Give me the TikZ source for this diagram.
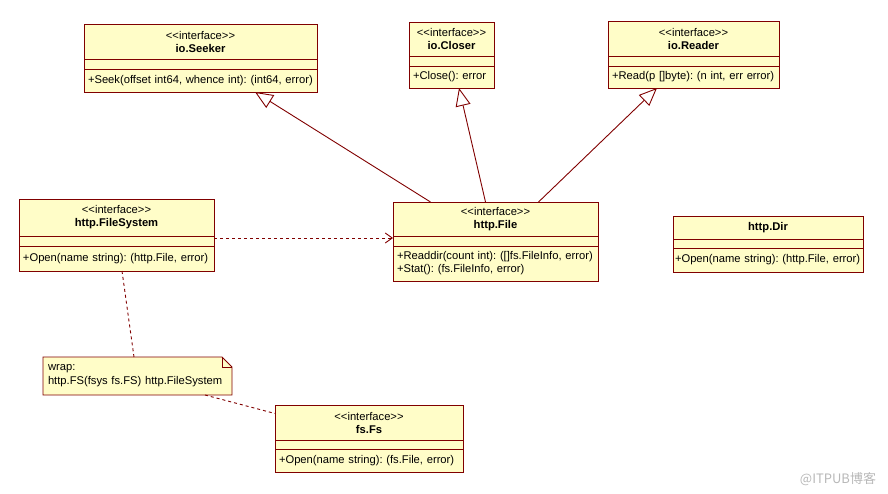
\documentclass[tikz,border=0pt]{standalone}
\usepackage{fontspec}
\setmainfont{Liberation Sans}
\newfontfamily\cjkfont{Noto Sans CJK SC}
\usepackage{tikz}
\usetikzlibrary{arrows.meta,positioning,backgrounds}
\definecolor{umlred}{RGB}{128,0,0}
\definecolor{umlfill}{RGB}{255,253,200}
\frenchspacing

\begin{document}
\begin{tikzpicture}[x=1pt, y=-1pt, node distance=0pt,
  head/.style={rectangle, draw=umlred, fill=umlfill, line width=0.9pt, outer sep=0pt, inner sep=0pt, align=center, anchor=north west, font=\fontsize{11.2}{13}\selectfont},
  blank/.style={rectangle, draw=umlred, fill=umlfill, line width=0.9pt, outer sep=0pt, inner sep=0pt},
  ops/.style={rectangle, draw=umlred, fill=umlfill, line width=0.9pt, outer sep=0pt, inner xsep=4pt, inner ysep=0pt, align=left, font=\fontsize{11.2}{13}\selectfont},
  note/.style={rectangle, outer sep=0pt, inner xsep=5pt, inner ysep=0pt, align=left, font=\fontsize{11.2}{14}\selectfont},
  realize/.style={draw=umlred, line width=0.9pt, -{Triangle[length=18pt, width=15pt, fill=white]}},
  depend/.style={draw=umlred, line width=0.9pt, dash pattern=on 3pt off 3pt, -{Straight Barb[length=7pt, width=10pt]}},
  link/.style={draw=umlred, line width=0.9pt, dash pattern=on 3pt off 3pt}]
\useasboundingbox (0,0) rectangle (888,494);

% io.Seeker
\node[head, minimum width=233pt, minimum height=35pt] (seekerhead) at (84,24) {\textless\kern0pt\textless interface\textgreater\kern0pt\textgreater\\\textbf{io.Seeker}};
\node[blank, minimum width=233pt, minimum height=10pt, below=of seekerhead] (seekerblank) {};
\node[ops, text width=225pt, minimum height=23pt, below=of seekerblank] (seekerops) {+Seek(offset int64, whence int): (int64, error)};

% io.Closer
\node[head, minimum width=85pt, minimum height=34pt] (closerhead) at (409,22) {\textless\kern0pt\textless interface\textgreater\kern0pt\textgreater\\\textbf{io.Closer}};
\node[blank, minimum width=85pt, minimum height=10pt, below=of closerhead] (closerblank) {};
\node[ops, text width=77pt, minimum height=22pt, below=of closerblank] (closerops) {+Close(): error};

% io.Reader
\node[head, minimum width=171pt, minimum height=35pt] (readerhead) at (608,21) {\textless\kern0pt\textless interface\textgreater\kern0pt\textgreater\\\textbf{io.Reader}};
\node[blank, minimum width=171pt, minimum height=10pt, below=of readerhead] (readerblank) {};
\node[ops, text width=163pt, minimum height=22pt, below=of readerblank] (readerops) {+Read(p {[]}byte): (n int, err error)};

% http.FileSystem
\node[head, minimum width=195pt, minimum height=37pt] (fshead) at (19,199) {\textless\kern0pt\textless interface\textgreater\kern0pt\textgreater\\\textbf{http.FileSystem}};
\node[blank, minimum width=195pt, minimum height=10pt, below=of fshead] (fsblank) {};
\node[ops, text width=187pt, minimum height=25pt, below=of fsblank] (fsops) {+Open(name string): (http.File, error)};

% http.File
\node[head, minimum width=205pt, minimum height=34pt] (filehead) at (393,202) {\textless\kern0pt\textless interface\textgreater\kern0pt\textgreater\\\textbf{http.File}};
\node[blank, minimum width=205pt, minimum height=10pt, below=of filehead] (fileblank) {};
\node[ops, text width=197pt, minimum height=35pt, below=of fileblank] (fileops) {+Readdir(count int): ({[]}fs.FileInfo, error)\\+Stat(): (fs.FileInfo, error)};

% http.Dir
\node[head, minimum width=190pt, minimum height=23pt] (dirhead) at (673,216) {\textbf{http.Dir}};
\node[blank, minimum width=190pt, minimum height=9pt, below=of dirhead] (dirblank) {};
\node[ops, inner xsep=2pt, text width=186pt, minimum height=24pt, below=of dirblank] (dirops) {+Open(name string): (http.File, error)};

% fs.Fs
\node[head, minimum width=188pt, minimum height=35pt] (fsfshead) at (275,405) {\textless\kern0pt\textless interface\textgreater\kern0pt\textgreater\\\textbf{fs.Fs}};
\node[blank, minimum width=188pt, minimum height=9pt, below=of fsfshead] (fsfsblank) {};
\node[ops, text width=180pt, minimum height=23pt, below=of fsfsblank] (fsfsops) {+Open(name string): (fs.File, error)};

% note
\node[note, text width=179pt, minimum height=38pt, anchor=north west] (wrapnote) at (43,357) {wrap:\\http.FS(fsys fs.FS) http.FileSystem};
\begin{scope}[on background layer]
\filldraw[draw=umlred, fill=umlfill, line width=0.9pt] (wrapnote.north west) -- ([xshift=-10pt]wrapnote.north east) -- ([yshift=-10pt]wrapnote.north east) -- (wrapnote.south east) -- (wrapnote.south west) -- cycle;
\draw[umlred, line width=0.9pt] ([xshift=-10pt]wrapnote.north east) |- ([yshift=-10pt]wrapnote.north east);
\end{scope}

% connectors
\draw[realize] ([xshift=-65pt]filehead.north) -- ([xshift=54.5pt]seekerops.south);
\draw[realize] ([xshift=-10pt]filehead.north) -- ([xshift=7.5pt]closerops.south);
\draw[realize] ([xshift=43pt]filehead.north) -- ([xshift=-36.5pt]readerops.south);
\draw[depend] ([yshift=3pt]fsblank.east) -- ([yshift=3pt]fileblank.west);
\draw[link] ([xshift=5.5pt]fsops.south) -- ([xshift=-3.5pt]wrapnote.north);
\draw[link] ([xshift=67.5pt]wrapnote.south) -- ([yshift=9pt]fsfshead.west);

\node[font=\cjkfont\fontsize{13}{15}\selectfont, text=black!28] (mark) at (838,479) {@ITPUB博客};
\end{tikzpicture}
\end{document}
